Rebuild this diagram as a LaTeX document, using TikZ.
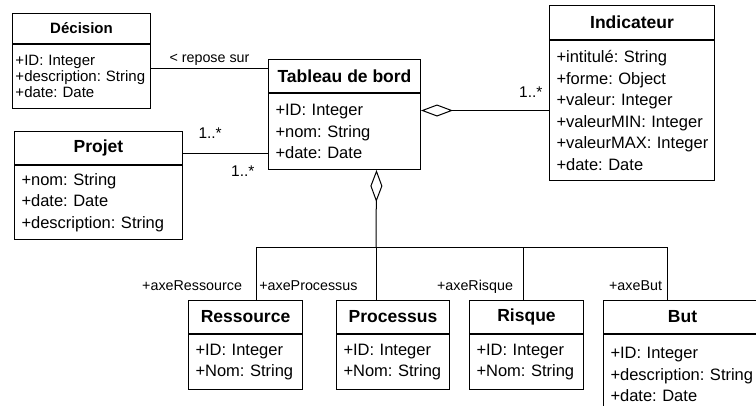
\documentclass[tikz,border=0pt]{standalone}
\usepackage{fontspec}
\setmainfont{Liberation Sans}
\usetikzlibrary{arrows.meta,positioning}

\begin{document}
\begin{tikzpicture}[
  x=1pt,y=-1pt,line width=1pt,
  head/.style={draw,anchor=north west,inner sep=0pt,
    font=\bfseries\fontsize{17.5}{20}\selectfont},
  attrs/.style={draw,below=0pt of #1,inner xsep=7pt,inner ysep=0pt,align=left,
    font={\fontsize{16.5}{21.5}\selectfont\frenchspacing\hyphenpenalty=10000}},
  lbl/.style={inner sep=0pt,font=\fontsize{14.3}{16}\selectfont},
  mult/.style={inner sep=0pt,font=\fontsize{15.5}{17}\selectfont},
  agg/.style={{Diamond[open,length=32pt,width=12pt]}-}
]
  \useasboundingbox (0,0) rectangle (756,405);
  \clip (0,0) rectangle (756,405);
  \node[head,minimum width=138pt,minimum height=30pt,
    font=\bfseries\fontsize{15}{18}\selectfont] (dec) at (12,13) {Décision};
  \node[attrs=dec,text width=132pt,inner xsep=3pt,minimum height=64pt,
    font={\fontsize{15}{16}\selectfont\frenchspacing\hyphenpenalty=10000}] (dec-a)
    {+ID:~Integer\\+description:~String\\+date:~Date};
  \node[head,minimum width=152pt,minimum height=33pt] (tab) at (268,59) {Tableau de bord};
  \node[attrs=tab,text width=138pt,minimum height=76pt] (tab-a)
    {+ID:~Integer\\+nom:~String\\+date:~Date};
  \node[head,minimum width=165pt,minimum height=34pt] (ind) at (549,5) {Indicateur};
  \node[attrs=ind,text width=151pt,minimum height=140pt] (ind-a)
    {+intitulé:~String\\+forme:~Object\\+valeur:~Integer\\+valeurMIN:~Integer\\+valeurMAX:~Integer\\+date:~Date};
  \node[head,minimum width=168pt,minimum height=33pt] (prj) at (14,131) {Projet};
  \node[attrs=prj,text width=154pt,minimum height=74pt] (prj-a)
    {+nom:~String\\+date:~Date\\+description:~String};
  \node[head,minimum width=114pt,minimum height=33pt] (res) at (188,300) {Ressource};
  \node[attrs=res,text width=100pt,minimum height=55pt] (res-a)
    {+ID:~Integer\\+Nom:~String};
  \node[head,minimum width=113pt,minimum height=33pt] (pro) at (336,300) {Processus};
  \node[attrs=pro,text width=99pt,minimum height=55pt] (pro-a)
    {+ID:~Integer\\+Nom:~String};
  \node[head,minimum width=114pt,minimum height=33pt] (ris) at (469,300) {Risque};
  \node[attrs=ris,text width=100pt,minimum height=55pt] (ris-a)
    {+ID:~Integer\\+Nom:~String};
  \node[head,minimum width=158pt,minimum height=33pt] (but) at (603,300) {But};
  \node[attrs=but,text width=144pt,minimum height=80pt] (but-a)
    {+ID:~Integer\\+description:~String\\+date:~Date};

  \draw ([yshift=8pt]dec-a.east) -- ([yshift=8pt]dec-a.east -| tab.west)
    node[lbl,midway,anchor=base,yshift=6pt] {< repose sur};
  \draw ([yshift=-5.5pt]prj.east) -- ([yshift=-5.5pt]prj.east -| tab-a.west)
    node[mult,pos=0,anchor=base west,xshift=15pt,yshift=15.5pt] {1..*}
    node[mult,pos=1,anchor=base east,xshift=-13pt,yshift=-22.5pt] {1..*};
  \draw[agg] (tab-a.east |- ind-a.west) -- (ind-a.west)
    node[mult,pos=1,anchor=base east,xshift=-6pt,yshift=13pt] {1..*};

  \coordinate (bus) at (376,247);
  \draw[agg] ([xshift=32pt]tab-a.south) -- (bus);
  \draw (bus) -| ([xshift=11pt]res.north)
    node[lbl,anchor=base east,xshift=-14pt,yshift=10pt] {+axeRessource};
  \draw (bus) -- (bus |- pro.north)
    node[lbl,anchor=base east,xshift=-18pt,yshift=10pt] {+axeProcessus};
  \draw (bus) -| ([xshift=-3pt]ris.north)
    node[lbl,anchor=base east,xshift=-10pt,yshift=10pt] {+axeRisque};
  \draw (bus) -| ([xshift=-15pt]but.north)
    node[lbl,anchor=base east,xshift=-5pt,yshift=10pt] {+axeBut};
\end{tikzpicture}
\end{document}
